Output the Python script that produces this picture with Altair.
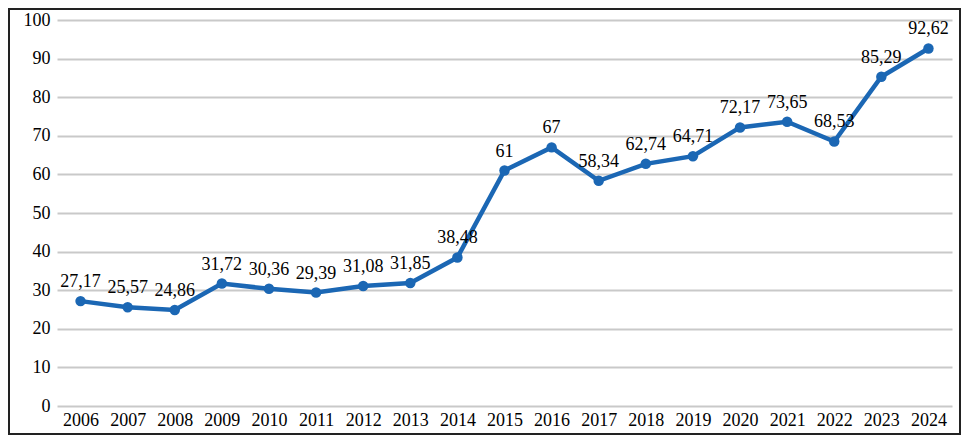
import altair as alt
import pandas as pd

years = [str(y) for y in range(2006, 2025)]
values = [27.17, 25.57, 24.86, 31.72, 30.36, 29.39, 31.08, 31.85, 38.48, 61, 67,
          58.34, 62.74, 64.71, 72.17, 73.65, 68.53, 85.29, 92.62]
labels = ["27,17", "25,57", "24,86", "31,72", "30,36", "29,39", "31,08", "31,85", "38,48",
          "61", "67", "58,34", "62,74", "64,71", "72,17", "73,65", "68,53", "85,29", "92,62"]
y_ticks = list(range(0, 101, 10))

df = pd.DataFrame({"year": years, "value": values, "label": labels})

W, H = 895, 386
PL, PT, PR, PB = 49, 12, 9, 29
FONT = "Liberation Serif"
BLUE = "#1b67b4"

x = alt.X("year:N", title=None, sort=years,
          scale=alt.Scale(paddingInner=0, paddingOuter=0.5),
          axis=alt.Axis(labelAngle=0, ticks=False, domain=False, labelFont=FONT,
                        labelFontSize=18, labelColor="#000", labelPadding=5, grid=False,
                        labelOverlap=False))
y = alt.Y("value:Q", title=None,
          scale=alt.Scale(domain=[0, 100], nice=False),
          axis=alt.Axis(values=y_ticks, ticks=False, domain=False, labelOverlap=False,
                        labelFont=FONT, labelFontSize=18, labelColor="#000", labelPadding=7,
                        gridColor="#c9c9c9", gridWidth=2))

base = alt.Chart(df)
line = base.mark_line(color=BLUE, strokeWidth=4.5).encode(x=x, y=y)
pts = base.mark_circle(color=BLUE, size=110, opacity=1).encode(x=x, y=y)
txt = base.mark_text(font=FONT, fontSize=18, color="#000", baseline="alphabetic",
                     dy=-14).encode(x=x, y=y, text="label:N")
border = alt.Chart(pd.DataFrame({"a": [0]})).mark_rect(
    fill=None, stroke="#222", strokeWidth=2, clip=False).encode(
    x=alt.value(-PL + 1), x2=alt.value(W + PR - 1),
    y=alt.value(-PT + 1), y2=alt.value(H + PB - 1))

chart = alt.layer(line, pts, txt, border).properties(
    width=W, height=H,
    autosize=alt.AutoSizeParams(type="none"),
    padding={"left": PL, "top": PT, "right": PR, "bottom": PB},
    background="white",
).configure_view(stroke=None)

chart.save("out.html", embed_options={"renderer": "svg", "actions": False})
